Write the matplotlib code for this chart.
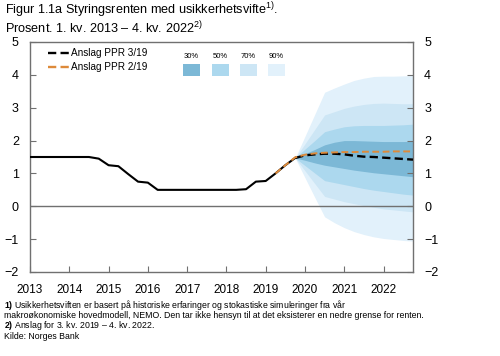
import numpy as np
import matplotlib
matplotlib.use("Agg")
import matplotlib.pyplot as plt
from matplotlib.lines import Line2D
from matplotlib.patches import Rectangle

plt.rcParams['font.family'] = ['Liberation Sans', 'DejaVu Sans']
plt.rcParams['mathtext.fontset'] = 'custom'
plt.rcParams['mathtext.rm'] = 'Liberation Sans'
plt.rcParams['mathtext.bf'] = 'Liberation Sans:bold'

# quarterly data, 1. kv. 2013 - 4. kv. 2022
start_year = 2013
history = [1.5, 1.5, 1.5, 1.5, 1.5, 1.5, 1.5, 1.45,
           1.25, 1.22, 0.98, 0.75,
           0.72, 0.5, 0.5, 0.5,
           0.5, 0.5, 0.5, 0.5,
           0.5, 0.5, 0.52, 0.75,
           0.77, 1.0, 1.25, 1.47]

# forecasts from 4. kv. 2019 (index 27)
ppr319 = [1.47, 1.55, 1.58, 1.60, 1.60, 1.58, 1.54, 1.51, 1.50, 1.48, 1.46, 1.44, 1.42]
# PPR 2/19 from 2. kv. 2019 (index 25)
ppr219 = [1.0, 1.25, 1.49, 1.57, 1.61, 1.63, 1.64, 1.65, 1.65, 1.66, 1.66, 1.66, 1.67, 1.67, 1.67]

# fan bands from 4. kv. 2019
lo90 = [1.47, 0.87, 0.27, -0.32, -0.50, -0.65, -0.77, -0.86, -0.93, -0.98, -1.01, -1.04, -1.06]
hi90 = [1.47, 2.13, 2.80, 3.47, 3.60, 3.72, 3.83, 3.90, 3.95, 3.96, 3.96, 3.97, 3.98]
lo70 = [1.47, 1.08, 0.69, 0.30, 0.22, 0.14, 0.08, 0.02, -0.03, -0.08, -0.11, -0.14, -0.17]
hi70 = [1.47, 1.90, 2.34, 2.78, 2.88, 2.98, 3.05, 3.10, 3.13, 3.14, 3.13, 3.12, 3.12]
lo50 = [1.47, 1.24, 1.01, 0.78, 0.72, 0.66, 0.60, 0.54, 0.49, 0.45, 0.41, 0.37, 0.34]
hi50 = [1.47, 1.74, 2.00, 2.27, 2.35, 2.42, 2.45, 2.46, 2.46, 2.46, 2.47, 2.48, 2.50]
lo30 = [1.47, 1.40, 1.32, 1.25, 1.20, 1.15, 1.10, 1.06, 1.02, 0.99, 0.96, 0.93, 0.90]
hi30 = [1.47, 1.60, 1.73, 1.87, 1.95, 2.00, 2.00, 1.99, 1.98, 1.97, 1.97, 1.97, 1.98]

fan_labels = ['30%', '50%', '70%', '90%']
fan_colors = ['#7cb8d6', '#acd8ee', '#cde6f5', '#e2f1fb']

W, H = 500, 356
fig = plt.figure(figsize=(W / 100, H / 100), dpi=100)
ax = fig.add_axes([30 / W, (H - 272) / H, 383 / W, 230 / H])


def qx(first, n):
    return start_year + (first + np.arange(n)) / 4


x_hist = qx(0, len(history))
x_fc = qx(27, len(ppr319))
x_219 = qx(25, len(ppr219))

bands = [(lo90, hi90), (lo70, hi70), (lo50, hi50), (lo30, hi30)]
for (lo, hi), c in zip(bands, fan_colors[::-1]):
    ax.fill_between(x_fc, lo, hi, color=c, lw=0, zorder=1)

gray = '#707070'
ax.axhline(0, color=gray, lw=1, zorder=2)
ax.plot(x_hist, history, color='black', lw=1.5, zorder=3)
ax.plot(x_fc, ppr319, color='black', lw=1.7, dashes=[3.5, 1.8], zorder=4)
ax.plot(x_219, ppr219, color='#dd8a3a', lw=1.4, dashes=[3.5, 1.8], zorder=5)

ax.set_xlim(2013, 2022.75)
ax.set_ylim(-2, 5)
ax.set_xticks(range(2013, 2023))
ax.set_yticks(range(-2, 6))
ax.tick_params(axis='x', direction='in', length=4, color=gray, labelsize=8.5, pad=8.5)
ax.tick_params(axis='y', direction='in', length=4, color=gray, labelsize=9, pad=8,
               left=True, right=True, labelleft=True, labelright=True)
for s in ax.spines.values():
    s.set_color(gray)
    s.set_linewidth(1)

# legend for lines
handles = [Line2D([], [], color='black', lw=1.7, dashes=[3.5, 1.8]),
           Line2D([], [], color='#dd8a3a', lw=1.7, dashes=[3.5, 1.8])]
leg = fig.legend(handles, ['Anslag PPR 3/19', 'Anslag PPR 2/19'], loc='upper left',
                 bbox_to_anchor=(48 / W, 1 - 48 / H), frameon=False, fontsize=7.2,
                 handlelength=2.2, handletextpad=0.1, labelspacing=0.4, borderpad=0,
                 borderaxespad=0)


def px(x, y):
    return x / W, 1 - y / H


# fan legend
sq_x = [183, 212, 240, 268]
for xx, lab, c in zip(sq_x, fan_labels, fan_colors):
    fig.add_artist(Rectangle(px(xx, 76), 17 / W, 12 / H, transform=fig.transFigure,
                             color=c, lw=0))
    fig.text(*px(xx + 8.5, 56), lab, fontsize=5.5, ha='center', va='center')

# titles
fig.text(*px(5, 10), 'Figur 1.1a Styringsrenten med usikkerhetsvifte$^{1)}$.',
         fontsize=9.1, va='center', ha='left')
fig.text(*px(5, 28), 'Prosent. 1. kv. 2013 \u2013 4. kv. 2022$^{2)}$',
         fontsize=9.1, va='center', ha='left')

notes = ['$\\mathbf{1)}$ Usikkerhetsviften er basert på historiske erfaringer og stokastiske simuleringer fra vår',
         'makroøkonomiske hovedmodell, NEMO. Den tar ikke hensyn til at det eksisterer en nedre grense for renten.',
         '$\\mathbf{2)}$ Anslag for 3. kv. 2019 \u2013 4. kv. 2022.',
         'Kilde: Norges Bank']
for k, t in enumerate(notes):
    fig.text(*px(4, 305 + 10.4 * k), t, fontsize=6.3, va='center', ha='left')

fig.savefig('out.png', dpi=100)
